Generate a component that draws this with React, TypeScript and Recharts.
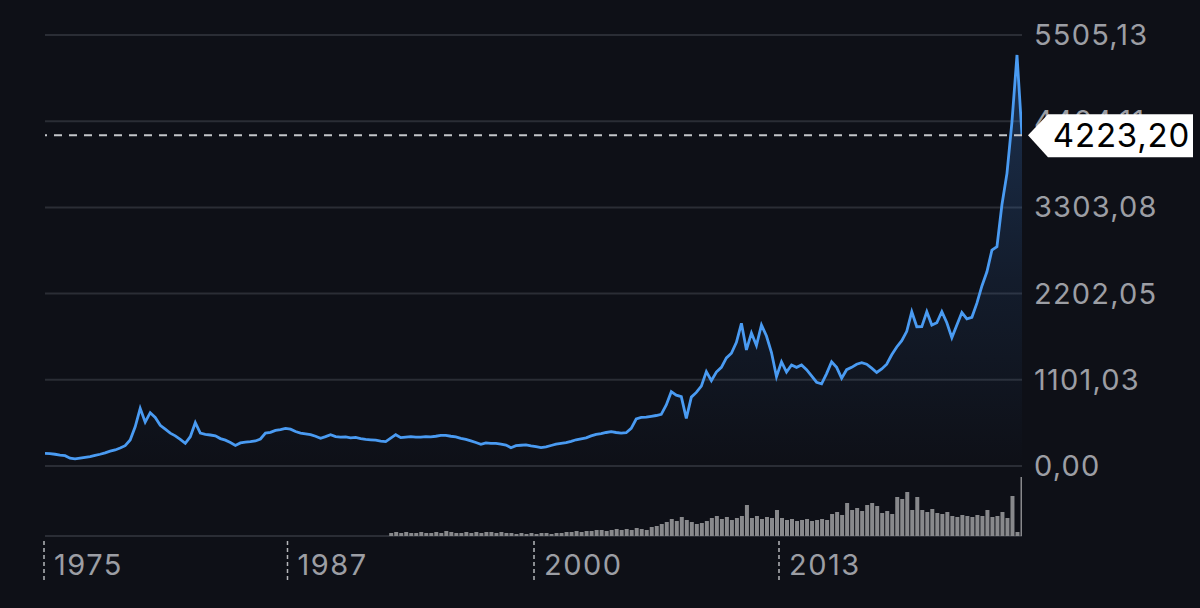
import React from "react";
import { ComposedChart, Area, Bar, XAxis, YAxis, CartesianGrid, ReferenceLine } from "recharts";

// Price samples, evenly spaced along the chart's time axis (index based)
const prices = [
  162, 158, 150, 140, 132, 100, 90, 100, 110, 120,
  135, 150, 168, 190, 205, 230, 260, 332, 500, 737,
  560, 681, 620, 520, 470, 420, 385, 340, 290, 374,
  553, 420, 405, 396, 385, 350, 330, 300, 262, 295,
  305, 310, 320, 345, 420, 430, 455, 465, 480, 470,
  440, 420, 410, 400, 380, 354, 375, 400, 375, 370,
  372, 360, 365, 350, 340, 335, 330, 318, 312, 355,
  400, 362, 370, 375, 368, 370, 376, 372, 380, 390,
  392, 380, 372, 354, 340, 320, 300, 277, 295, 290,
  288, 280, 268, 234, 260, 265, 270, 258, 248, 236,
  245, 262, 278, 290, 298, 315, 335, 348, 360, 385,
  405, 415, 428, 438, 428, 420, 425, 481, 600, 620,
  625, 635, 645, 660, 780, 949, 905, 885, 609, 880,
  940, 1020, 1205, 1090, 1200, 1260, 1380, 1440, 1580, 1823,
  1482, 1700, 1540, 1801, 1660, 1450, 1141, 1330, 1200, 1290,
  1260, 1290, 1230, 1150, 1070, 1050, 1180, 1332, 1260, 1120,
  1230, 1260, 1300, 1320, 1300, 1250, 1195, 1240, 1300, 1420,
  1520, 1600, 1720, 1970, 1779, 1780, 1971, 1800, 1830, 1971,
  1830, 1640, 1800, 1960, 1880, 1900, 2080, 2300, 2480, 2759,
  2800, 3340, 3738, 4400, 5250, 4223.2,
];

// Volume samples, starting at index VOLUME_START
const VOLUME_START = 69;
const volumes = [
  3, 4, 3, 4, 3, 3, 4, 3, 3, 4,
  3, 5, 4, 3, 3, 4, 3, 4, 3, 4,
  4, 3, 4, 3, 3, 2, 3, 2, 3, 2,
  3, 3, 2, 3, 3, 4, 4, 5, 4, 5,
  5, 6, 6, 5, 6, 7, 6, 7, 6, 8,
  7, 6, 9, 10, 12, 14, 17, 15, 19, 16,
  14, 12, 13, 15, 18, 20, 17, 19, 16, 18,
  20, 31, 18, 20, 17, 19, 18, 26, 18, 16,
  17, 15, 16, 17, 15, 16, 17, 16, 22, 24,
  21, 33, 26, 28, 25, 31, 33, 30, 23, 25,
  22, 39, 37, 44, 26, 39, 26, 24, 27, 23,
  22, 24, 20, 19, 21, 20, 19, 21, 20, 26,
  19, 20, 24, 18, 40, 4, 59,
];

const priceTicks = [0, 1101.03, 2202.05, 3303.08, 4404.11, 5505.13];
const yearTicks = [0, 48.6, 97.8, 146.7];
const yearLabels = ["1975", "1987", "2000", "2013"];
const lastPrice = 4223.2;

const data = prices.map((p, i) => ({
  i,
  price: p,
  vol: i >= VOLUME_START ? volumes[i - VOLUME_START] : null,
}));

const fmt = (v: number) => v.toFixed(2).replace(".", ",");

const FONT = "Inter, 'Noto Sans', sans-serif";
const LABEL_COLOR = "#9c9ea4";
const PRICE_DOMAIN: [number, number] = [-894.1, 5505.13];
const X_DOMAIN: [number, number] = [0, 195];

const YTick = (props: any) => {
  const { x, y, payload } = props;
  return (
    <text x={x + 12} y={y + 10} fill={LABEL_COLOR} fontSize={29} letterSpacing={1.2} fontFamily={FONT}>
      {fmt(payload.value)}
    </text>
  );
};

const XTick = (props: any) => {
  const { x, y, payload } = props;
  const idx = yearTicks.indexOf(payload.value);
  return (
    <g>
      <line x1={x - 1} x2={x - 1} y1={y + 5} y2={y + 45} stroke="#b4b6ba" strokeWidth={1.5} strokeDasharray="4 3" />
      <text x={x + 9} y={y + 39} fill={LABEL_COLOR} fontSize={29} letterSpacing={1.5} fontFamily={FONT}>
        {idx >= 0 ? yearLabels[idx] : ""}
      </text>
    </g>
  );
};

const PriceTag = (props: any) => {
  const vb = props.viewBox || {};
  const x0 = (vb.x || 0) + (vb.width || 0) + 6;
  const cy = vb.y || 0;
  const top = cy - 21;
  const bot = cy + 22;
  const right = 1193;
  const pts = `${x0},${cy} ${x0 + 20},${top} ${right},${top} ${right},${bot} ${x0 + 20},${bot}`;
  return (
    <g>
      <polygon points={pts} fill="#ffffff" />
      <text x={(x0 + 20 + right) / 2 + 1} y={cy + 12} textAnchor="middle" fill="#000000" fontSize={33} letterSpacing={0.8} fontFamily={FONT}>
        {fmt(lastPrice)}
      </text>
    </g>
  );
};

export default function App() {
  return (
    <div style={{ position: "absolute", left: 0, top: 0, width: 1200, height: 608, background: "#0e1017", overflow: "hidden" }}>
      <div style={{ position: "absolute", left: 0, top: 0 }}>
        <ComposedChart width={1200} height={608} data={data} margin={{ top: 35, right: 0, bottom: 0, left: 45 }}>
          <defs>
            <linearGradient id="goldFill" x1="0" y1="0" x2="0" y2="1">
              <stop offset="0%" stopColor="#3d7fd6" stopOpacity={0.5} />
              <stop offset="55%" stopColor="#3d7fd6" stopOpacity={0.18} />
              <stop offset="100%" stopColor="#3d7fd6" stopOpacity={0} />
            </linearGradient>
          </defs>
          <CartesianGrid yAxisId="price" vertical={false} stroke="#2a2d35" strokeWidth={2} />
          <XAxis
            dataKey="i"
            type="number"
            domain={X_DOMAIN}
            ticks={yearTicks}
            tick={<XTick />}
            tickSize={0}
            tickMargin={0}
            axisLine={false}
            tickLine={false}
            height={72}
            allowDataOverflow
            interval={0}
          />
          <YAxis
            yAxisId="price"
            orientation="right"
            type="number"
            domain={PRICE_DOMAIN}
            ticks={priceTicks}
            tick={<YTick />}
            tickSize={0}
            tickMargin={0}
            axisLine={false}
            tickLine={false}
            width={178}
            allowDataOverflow
            interval={0}
          />
          <YAxis yAxisId="vol" hide domain={[0, 501]} allowDataOverflow />
          <Bar yAxisId="vol" dataKey="vol" fill="#88898c" barSize={4} isAnimationActive={false} />
          <Area
            yAxisId="price"
            type="linear"
            dataKey="price"
            stroke="#4a9bf2"
            strokeWidth={2.8}
            fill="url(#goldFill)"
            baseValue={0}
            dot={false}
            activeDot={false}
            isAnimationActive={false}
          />
          <ReferenceLine yAxisId="price" y={lastPrice} stroke="#c4c6ca" strokeWidth={2} strokeDasharray="8 7" />
        </ComposedChart>
      </div>
      {/* overlay chart holding the last-price tag so it sits above the axis labels */}
      <div style={{ position: "absolute", left: 0, top: 0, pointerEvents: "none" }}>
        <ComposedChart width={1200} height={608} data={data} margin={{ top: 35, right: 178, bottom: 72, left: 45 }}>
          <XAxis dataKey="i" type="number" domain={X_DOMAIN} hide allowDataOverflow />
          <YAxis yAxisId="price" type="number" domain={PRICE_DOMAIN} hide allowDataOverflow />
          <ReferenceLine yAxisId="price" y={lastPrice} stroke="none" label={<PriceTag />} />
        </ComposedChart>
      </div>
    </div>
  );
}
